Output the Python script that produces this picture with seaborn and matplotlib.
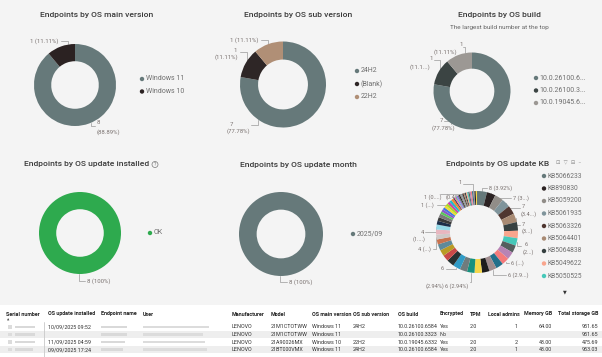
import numpy as np
import matplotlib
matplotlib.use('Agg')
import matplotlib.pyplot as plt
from matplotlib.patches import Rectangle, Circle
import seaborn as sns

sns.set_theme(style='white')
plt.rcParams['font.family'] = ['Roboto', 'DejaVu Sans']

# ---- data ----
main_versions = ['Windows 11', 'Windows 10']
main_counts = [8, 1]
sub_versions = ['24H2', '(Blank)', '22H2']
sub_counts = [7, 1, 1]
builds = ['10.0.26100.6...', '10.0.26100.3...', '10.0.19045.6...']
build_counts = [7, 1, 1]
installed = ['OK']
installed_counts = [8]
months = ['2025/09']
month_counts = [8]
kb_names = ['KB5066233', 'KB890830', 'KB5059200', 'KB5061935', 'KB5063326',
            'KB5064401', 'KB5064838', 'KB5049622', 'KB5050525']
kb_counts = [8, 7, 7, 7, 7, 7, 7,
             6, 6, 6, 6, 6, 6, 6, 6, 6, 6, 6, 6, 6,
             5, 5, 5, 4, 4, 4, 4, 3, 3, 3,
             2, 2, 2, 2, 2, 2, 2, 2,
             1, 1, 1, 1, 1, 1, 1, 1, 1, 1, 1, 1, 1, 1, 1, 1, 1, 1, 1, 1]

table_cols = ['Serial number', 'OS update installed', 'Endpoint name', 'User', 'Manufacturer',
              'Model', 'OS main version', 'OS sub version', 'OS build', 'Encrypted', 'TPM',
              'Local admins', 'Memory GB', 'Total storage GB']
table_rows = [
    ['', '10/09/2025 09:52', '', '', 'LENOVO', '21M1CTOTWW', 'Windows 11', '24H2', '10.0.26100.6584', 'Yes', '2.0', '1', '64.00', '951.65'],
    ['', '', '', '', 'LENOVO', '21M1CTOTWW', 'Windows 11', '', '10.0.26100.3323', 'No', '', '', '', '951.65'],
    ['', '11/09/2025 04:59', '', '', 'LENOVO', '21A90026MX', 'Windows 10', '22H2', '10.0.19045.6332', 'Yes', '2.0', '2', '48.00', '475.69'],
    ['', '09/09/2025 17:24', '', '', 'LENOVO', '21BT000VMX', 'Windows 11', '24H2', '10.0.26100.6584', 'Yes', '2.0', '1', '48.00', '953.03'],
]

# ---- style ----
GRAY = '#66797a'
c_main = ['#66797a', '#2b2222']
c_sub = ['#66797a', '#2e2626', '#b08f76']
c_build = ['#66797a', '#3b4443', '#9c9894']
c_ok = ['#2eaa4e']
kb_base = ['#66797a', '#2b2222', '#918d88', '#7f949b', '#4f3630', '#a88a73', '#364040',
           '#f9a58d', '#46c8b9', '#555e5e', '#b784b5', '#f47b7b', '#236f8a', '#a08c8e',
           '#1c1c1c', '#f4d64b', '#16917f', '#6f7c7e', '#2f9bc6', '#263232', '#c94a48',
           '#b99b24', '#5f8a99', '#c8734f', '#cfc9c8', '#e8b7c0', '#95d9e8', '#1c2e4a',
           '#3a3a3a', '#7a7a7a', '#5ac85a', '#8855cc', '#4477dd', '#eedd33', '#aadd22',
           '#cc44aa', '#22bbcc', '#ee8833', '#334455', '#ff66aa', '#66cc99', '#9966ff']
kb_colors = sns.color_palette((kb_base * 2)[:len(kb_counts)])

W, H = 602, 357
BG = '#f4f4f4'
TXT = '#3a3a3a'
LBL = '#7a7270'
fig = plt.figure(figsize=(W / 100, H / 100), dpi=100)
fig.patch.set_facecolor(BG)
bg = fig.add_axes([0, 0, 1, 1])
bg.set_xlim(0, W)
bg.set_ylim(H, 0)
bg.axis('off')


def donut(cx, cy, r, vals, cols, width=0.42):
    ax = fig.add_axes([(cx - r) / W, 1 - (cy + r) / H, 2 * r / W, 2 * r / H])
    wedges, _ = ax.pie(vals, colors=cols, startangle=90, counterclock=False, radius=1,
                       wedgeprops=dict(width=width, linewidth=0))
    ax.set_xlim(-1, 1)
    ax.set_ylim(-1, 1)
    ax.axis('off')
    return wedges


def callout(cx, cy, r, ang, texts, end, fs=4.3):
    a = np.deg2rad(ang)
    x0, y0 = cx + (r + 0.5) * np.cos(a), cy - (r + 0.5) * np.sin(a)
    bg.plot([x0, x0, end[0]], [y0, end[1], end[1]], color='#a8a8a8', lw=0.6)
    for tx, ty, s, ha in texts:
        bg.text(tx, ty, s, ha=ha, va='center', fontsize=fs, color=LBL)


def mid(w):
    return (w.theta1 + w.theta2) / 2


def legend(x, y0, names, cols, step, fs=5.0):
    for i, (n, c) in enumerate(zip(names, cols)):
        y = y0 + i * step
        bg.add_patch(Circle((x, y), 2.2, color=c, lw=0))
        bg.text(x + 3.5, y, n, va='center', ha='left', fontsize=fs, color='#6f6f6f')


def title(x, y, s, fs=6.1):
    bg.text(x, y, s, ha='center', va='center', fontsize=fs, color=TXT, fontweight='medium')


# ---- titles ----
title(97, 15, 'Endpoints by OS main version')
title(298, 15, 'Endpoints by OS sub version')
title(499, 15, 'Endpoints by OS build')
bg.text(499, 27, 'The largest build number at the top', ha='center', va='center', fontsize=4.6, color='#666666')
title(87, 164, 'Endpoints by OS update installed')
bg.add_patch(Circle((155, 164.5), 3.0, fill=False, ec='#777777', lw=0.5))
bg.text(155, 164.7, '?', ha='center', va='center', fontsize=3.6, color='#777777')
title(298, 165, 'Endpoints by OS update month')
title(498, 164, 'Endpoints by OS update KB')
bg.text(569, 163, '⊡  ▽  ⊟  –', ha='center', va='center', fontsize=3.8, color='#8a8a8a',
        family=['DejaVu Sans'])

# ---- donut 1 ----
w1 = donut(75, 85, 41, main_counts, c_main)
callout(75, 85, 41, 100, [(59, 41, '1 (11.11%)', 'right')], (61, 41))
callout(75, 85, 41, -68, [(97, 123, '8', 'left'), (97, 132, '(88.89%)', 'left')], (95, 126))
legend(142, 79, main_versions, c_main, 12.5)

# ---- donut 2 ----
w2 = donut(283, 84.5, 43, sub_counts, c_sub)
callout(283, 84.5, 43, 110, [(259, 40, '1 (11.11%)', 'right')], (261, 40))
callout(283, 84.5, 43, 147, [(237, 50, '1', 'right'), (238, 57, '(11.11%)', 'right')], (240, 52))
callout(283, 84.5, 43, -125, [(231, 124, '7', 'center'), (238.5, 131, '(77.78%)', 'center')], (251, 125))
legend(357, 71, sub_versions, c_sub, 13)

# ---- donut 3 ----
w3 = donut(472, 91, 38.5, build_counts, c_build)
callout(472, 91, 38.5, 100, [(459.5, 44, '1', 'left'), (445, 52, '(11.11%)', 'center')], (463, 47))
callout(472, 91, 38.5, 145, [(431, 59, '1', 'center'), (420.5, 67, '(11.1...)', 'center')], (434, 60))
callout(472, 91, 38.5, -122, [(441, 120, '7', 'center'), (443, 128, '(77.78%)', 'center')], (444, 121))
legend(536, 78, builds, c_build, 12.5)

# ---- donut 4 ----
donut(80, 233, 41, installed_counts, c_ok)
callout(80, 233, 41, -91, [(87, 281, '8 (100%)', 'left')], (85, 281))
legend(150, 233, installed, c_ok, 12)

# ---- donut 5 ----
donut(281, 234, 42, month_counts, [GRAY])
callout(281, 234, 42, -91, [(289, 282, '8 (100%)', 'left')], (287, 282))
legend(353, 234, months, [GRAY], 12)

# ---- donut 6 (KB) ----
wk = donut(477, 232, 41, kb_counts, kb_colors, width=0.34)
kcx, kcy, kr = 477, 232, 41
kb_callouts = [
    (0, [(489, 188, '8 (3.92%)', 'left')], (487, 188)),
    (1, [(513, 198, '7 (3...)', 'left')], (511, 198)),
    (3, [(522, 207, '7', 'left'), (521, 214, '(3.4...)', 'left')], (520, 208)),
    (5, [(522, 224, '7', 'left'), (522, 231, '(3...)', 'left')], (520, 225)),
    (8, [(525, 245, '6', 'left'), (523, 252, '(2...)', 'left')], (521, 246)),
    (11, [(511, 263, '6 (...)', 'left')], (509, 263)),
    (13, [(508, 275, '6 (2.9...)', 'left')], (506, 275)),
    (16, [(445, 286, '6 (2.94%)', 'left')], (470, 282)),
    (18, [(442, 269, '6', 'center'), (435, 286, '(2.94%)', 'center')], (446, 269)),
    (24, [(418, 249, '4 (...)', 'left')], (433, 249)),
    (26, [(422, 232, '4', 'center'), (413, 239, '(1....)', 'left')], (425, 232)),
    (40, [(421, 205, '1 (...)', 'left')], (437, 205)),
    (46, [(424, 197, '1 (0....)', 'left')], (440, 194)),
    (54, [(459, 183, '1', 'left'), (455, 197, '(0.49%)', 'center')], (463, 184)),
]
for idx, texts, end in kb_callouts:
    callout(kcx, kcy, kr, mid(wk[idx]), texts, end, fs=4.1)
legend(544, 176, kb_names, kb_colors[:len(kb_names)], 12.5, fs=4.8)
bg.text(565, 292, '▼', ha='center', va='center', fontsize=3.5, color='#333333', family=['DejaVu Sans'])

# ---- table ----
bg.add_patch(Rectangle((0, 305), W, H - 305, color='white', lw=0))
col_x = [6, 48, 101, 143, 232, 271, 312, 353, 398, 440, 470, 487, 524, 558]
col_right = {11: 518, 12: 552, 13: 598}
hy = 314
for i, (name, x) in enumerate(zip(table_cols, col_x)):
    if i in col_right:
        bg.text(col_right[i] if i != 11 else 520, hy, name, ha='right', va='center', fontsize=3.9,
                color='#222222', fontweight='bold')
    else:
        bg.text(x, hy, name, ha='left', va='center', fontsize=3.9, color='#222222', fontweight='bold')
bg.text(8, 319.5, '▲', ha='center', va='center', fontsize=2.2, color='#444444', family=['DejaVu Sans'])
bg.plot([44, 44], [322, H], color='#c8c8c8', lw=0.6)

row_y = [327, 334.5, 342, 349.5]
blur_w = [(20, 26, 66), (20, 26, 60), (20, 24, 62), (18, 22, 64)]
for r_i, (row, y) in enumerate(zip(table_rows, row_y)):
    if r_i % 2 == 1:
        bg.add_patch(Rectangle((0, y - 3.7), W, 7.4, color='#eeeeee', lw=0))
    bw = blur_w[r_i]
    bg.add_patch(Rectangle((8, y - 1.8), 4, 3.6, color='#dcdcdc', lw=0))
    bg.add_patch(Rectangle((15, y - 1.4), bw[0], 2.8, color='#d9d9d9', lw=0))
    bg.add_patch(Rectangle((101, y - 1.4), bw[1], 2.8, color='#d9d9d9', lw=0))
    bg.add_patch(Rectangle((143, y - 1.4), bw[2], 2.8, color='#dcdcdc', lw=0))
    for c_i, val in enumerate(row):
        if not val:
            continue
        if c_i in col_right:
            bg.text(col_right[c_i], y, val, ha='right', va='center', fontsize=3.9, color='#333333')
        else:
            bg.text(col_x[c_i], y, val, ha='left', va='center', fontsize=3.9, color='#333333')

fig.savefig('out.png', dpi=100, facecolor=BG)
